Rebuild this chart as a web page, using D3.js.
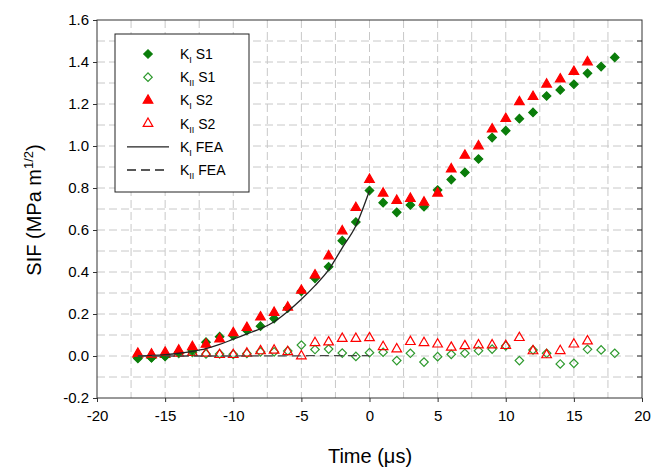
<!DOCTYPE html>
<meta charset="utf-8">
<style>
  body { margin: 0; background: #fff; }
  svg { position: absolute; top: 0; left: 0; }
  text { font-family: "Liberation Sans", Arial, sans-serif; fill: #000; }
  .tick-label { font-size: 15px; }
  .axis-title { font-size: 20px; }
  .legend-text { font-size: 14px; }
  .grid line { stroke: #c8c8c8; stroke-width: 1px; stroke-dasharray: 8,4; }
</style>
<script src="https://d3js.org/d3.v7.min.js"></script>
<svg width="662" height="471"></svg>
<script>
  // times (microseconds)
  var timeS1 = [-17,-16,-15,-14,-13,-12,-11,-10,-9,-8,-7,-6,-5,-4,-3,-2,-1,0,1,2,3,4,5,6,7,8,9,10,11,12,13,14,15,16,17,18];
  var timeS2 = [-17,-16,-15,-14,-13,-12,-11,-10,-9,-8,-7,-6,-5,-4,-3,-2,-1,0,1,2,3,4,5,6,7,8,9,10,11,12,13,14,15,16];
  var timeFea = [-17,-16,-15,-14,-13,-12,-11,-10,-9,-8,-7,-6,-5,-4,-3,-2,-1,0];

  var kIS1 = [-0.012,-0.008,-0.002,0.018,0.025,0.066,0.092,0.097,0.122,0.142,0.178,0.228,0.308,0.370,0.425,0.549,0.638,0.788,
              0.730,0.684,0.719,0.711,0.790,0.840,0.874,0.938,1.040,1.073,1.130,1.160,1.238,1.267,1.294,1.346,1.378,1.422];
  var kIIS1 = [-0.005,-0.008,0.000,0.012,0.017,0.010,0.010,0.008,0.012,0.020,0.020,0.024,0.052,0.031,0.033,0.014,-0.002,0.016,
               0.018,-0.022,0.013,-0.029,-0.003,0.008,0.013,0.025,0.033,0.048,-0.022,0.029,0.013,-0.038,-0.035,0.032,0.029,0.013];
  var kIS2 = [0.012,0.008,0.017,0.027,0.044,0.055,0.080,0.110,0.135,0.185,0.207,0.232,0.312,0.385,0.476,0.595,0.706,0.840,
              0.775,0.740,0.750,0.732,0.775,0.890,0.955,1.000,1.080,1.130,1.210,1.235,1.294,1.318,1.354,1.400];
  var kIIS2 = [0.008,0.004,0.006,0.013,0.016,0.013,0.006,0.006,0.013,0.024,0.027,0.020,0.000,0.063,0.066,0.083,0.083,0.086,
               0.044,0.033,0.068,0.063,0.056,0.041,0.048,0.052,0.052,0.049,0.087,0.024,0.005,0.025,0.056,0.071];
  var kIFea = [0.000,0.003,0.007,0.013,0.022,0.035,0.055,0.080,0.105,0.130,0.163,0.212,0.270,0.335,0.410,0.515,0.620,0.788];
  var kIIFea = [0.000,0.000,0.000,0.000,0.000,0.000,0.000,0.000,0.001,0.001,0.001,0.001,0.001,0.002,0.002,0.002,0.002,0.002];

  var xTicks = [-20,-15,-10,-5,0,5,10,15,20];
  var yTicks = [-0.2,0,0.2,0.4,0.6,0.8,1.0,1.2,1.4,1.6];

  var green = "#0a7d0a", greenOpen = "#2f9a2f", red = "#ff0000";

  var svg = d3.select("svg");
  var x = d3.scaleLinear().domain([-20, 20]).range([97, 642]);
  var y = d3.scaleLinear().domain([-0.2, 1.6]).range([398, 20]);

  // plain hyphen instead of unicode minus
  var fmtX = d => String(d);
  var fmtY = d => d.toFixed(1);

  // grid at minor spacing
  var grid = svg.append("g").attr("class", "grid");
  grid.selectAll(".gx").data(d3.range(-17.5, 20, 2.5)).enter().append("line")
    .attr("x1", d => x(d)).attr("x2", d => x(d)).attr("y1", y(1.6)).attr("y2", y(-0.2));
  grid.selectAll(".gy").data(d3.range(-1, 16, 1)).enter().append("line")
    .attr("x1", x(-20)).attr("x2", x(20)).attr("y1", d => y(d / 10)).attr("y2", d => y(d / 10));

  // frame
  svg.append("rect").attr("x", x(-20)).attr("y", y(1.6))
    .attr("width", x(20) - x(-20)).attr("height", y(-0.2) - y(1.6))
    .attr("fill", "none").attr("stroke", "#333").attr("stroke-width", 1);

  // axes
  var xAxis = d3.axisBottom(x).tickValues(xTicks).tickSize(4).tickFormat(fmtX);
  var gx = svg.append("g").attr("transform", "translate(0," + y(-0.2) + ")").call(xAxis);
  gx.select(".domain").remove();
  gx.selectAll("line").attr("stroke", "#333");
  gx.selectAll("text").attr("class", "tick-label").attr("dy", "1.05em");

  var yAxis = d3.axisLeft(y).tickValues(yTicks).tickSize(4).tickFormat(fmtY);
  var gy = svg.append("g").attr("transform", "translate(" + x(-20) + ",0)").call(yAxis);
  gy.select(".domain").remove();
  gy.selectAll("line").attr("stroke", "#333");
  gy.selectAll("text").attr("class", "tick-label").attr("x", -8);

  // right side inner ticks
  svg.append("g").selectAll("line").data(d3.range(-1, 16, 1)).enter().append("line")
    .attr("x1", x(20) - 5).attr("x2", x(20)).attr("y1", d => y(d / 10)).attr("y2", d => y(d / 10))
    .attr("stroke", "#333");

  // axis titles
  svg.append("text").attr("class", "axis-title").attr("text-anchor", "middle")
    .attr("x", 370).attr("y", 463).text("Time (\u03bcs)");
  var yt = svg.append("text").attr("class", "axis-title").attr("text-anchor", "middle")
    .attr("transform", "translate(41,210) rotate(-90)");
  yt.append("tspan").text("SIF (MPa m");
  yt.append("tspan").attr("dy", -8).style("font-size", "13px").text("1/2");
  yt.append("tspan").attr("dy", 8).text(")");

  var diamond = d3.symbol().type(d3.symbolSquare).size(36);
  var tri = d3.symbol().type(d3.symbolTriangle).size(40);

  function points(times, vals, shape, rot, fill, stroke) {
    svg.append("g").selectAll("path").data(times).enter().append("path")
      .attr("d", shape)
      .attr("transform", (t, i) => "translate(" + x(t) + "," + y(vals[i]) + ") rotate(" + rot + ")")
      .attr("fill", fill).attr("stroke", stroke).attr("stroke-width", 1.2);
  }
  points(timeS1, kIIS1, diamond, 45, "none", greenOpen);
  points(timeS2, kIIS2, tri, 0, "none", red);
  points(timeS1, kIS1, diamond, 45, green, green);
  points(timeS2, kIS2, tri, 0, red, red);

  // FEA lines
  var line = (vals) => d3.line().x(t => x(t)).y((t, i) => y(vals[i])).curve(d3.curveMonotoneX);
  svg.append("path").datum(timeFea).attr("d", line(kIFea))
    .attr("fill", "none").attr("stroke", "#222").attr("stroke-width", 1.3);
  svg.append("path").datum(timeFea).attr("d", line(kIIFea))
    .attr("fill", "none").attr("stroke", "#444").attr("stroke-width", 1.3).attr("stroke-dasharray", "9,5");

  // legend
  var legend = [
    {sub: "I", s: " S1", kind: "fd"},
    {sub: "II", s: " S1", kind: "od"},
    {sub: "I", s: " S2", kind: "ft"},
    {sub: "II", s: " S2", kind: "ot"},
    {sub: "I", s: " FEA", kind: "solid"},
    {sub: "II", s: " FEA", kind: "dash"}
  ];
  var lg = svg.append("g");
  lg.append("rect").attr("x", 115).attr("y", 34).attr("width", 134).attr("height", 158)
    .attr("fill", "#fff").attr("stroke", "#222").attr("stroke-width", 1);
  legend.forEach(function(d, i) {
    var cy = 54 + i * 23.2;
    if (d.kind == "fd" || d.kind == "od") {
      lg.append("path").attr("d", diamond).attr("transform", "translate(148," + cy + ") rotate(45)")
        .attr("fill", d.kind == "fd" ? green : "none").attr("stroke", d.kind == "fd" ? green : greenOpen).attr("stroke-width", 1.2);
    } else if (d.kind == "ft" || d.kind == "ot") {
      lg.append("path").attr("d", tri).attr("transform", "translate(148," + cy + ")")
        .attr("fill", d.kind == "ft" ? red : "none").attr("stroke", red).attr("stroke-width", 1.2);
    } else {
      lg.append("line").attr("x1", 127).attr("x2", 169).attr("y1", cy).attr("y2", cy)
        .attr("stroke", "#222").attr("stroke-width", 1.3)
        .attr("stroke-dasharray", d.kind == "dash" ? "9,5" : null);
    }
    var t = lg.append("text").attr("class", "legend-text").attr("x", 180).attr("y", cy + 5);
    t.append("tspan").text("K");
    t.append("tspan").attr("dy", 4).style("font-size", "9px").text(d.sub);
    t.append("tspan").attr("dy", -4).text(d.s);
  });
</script>
